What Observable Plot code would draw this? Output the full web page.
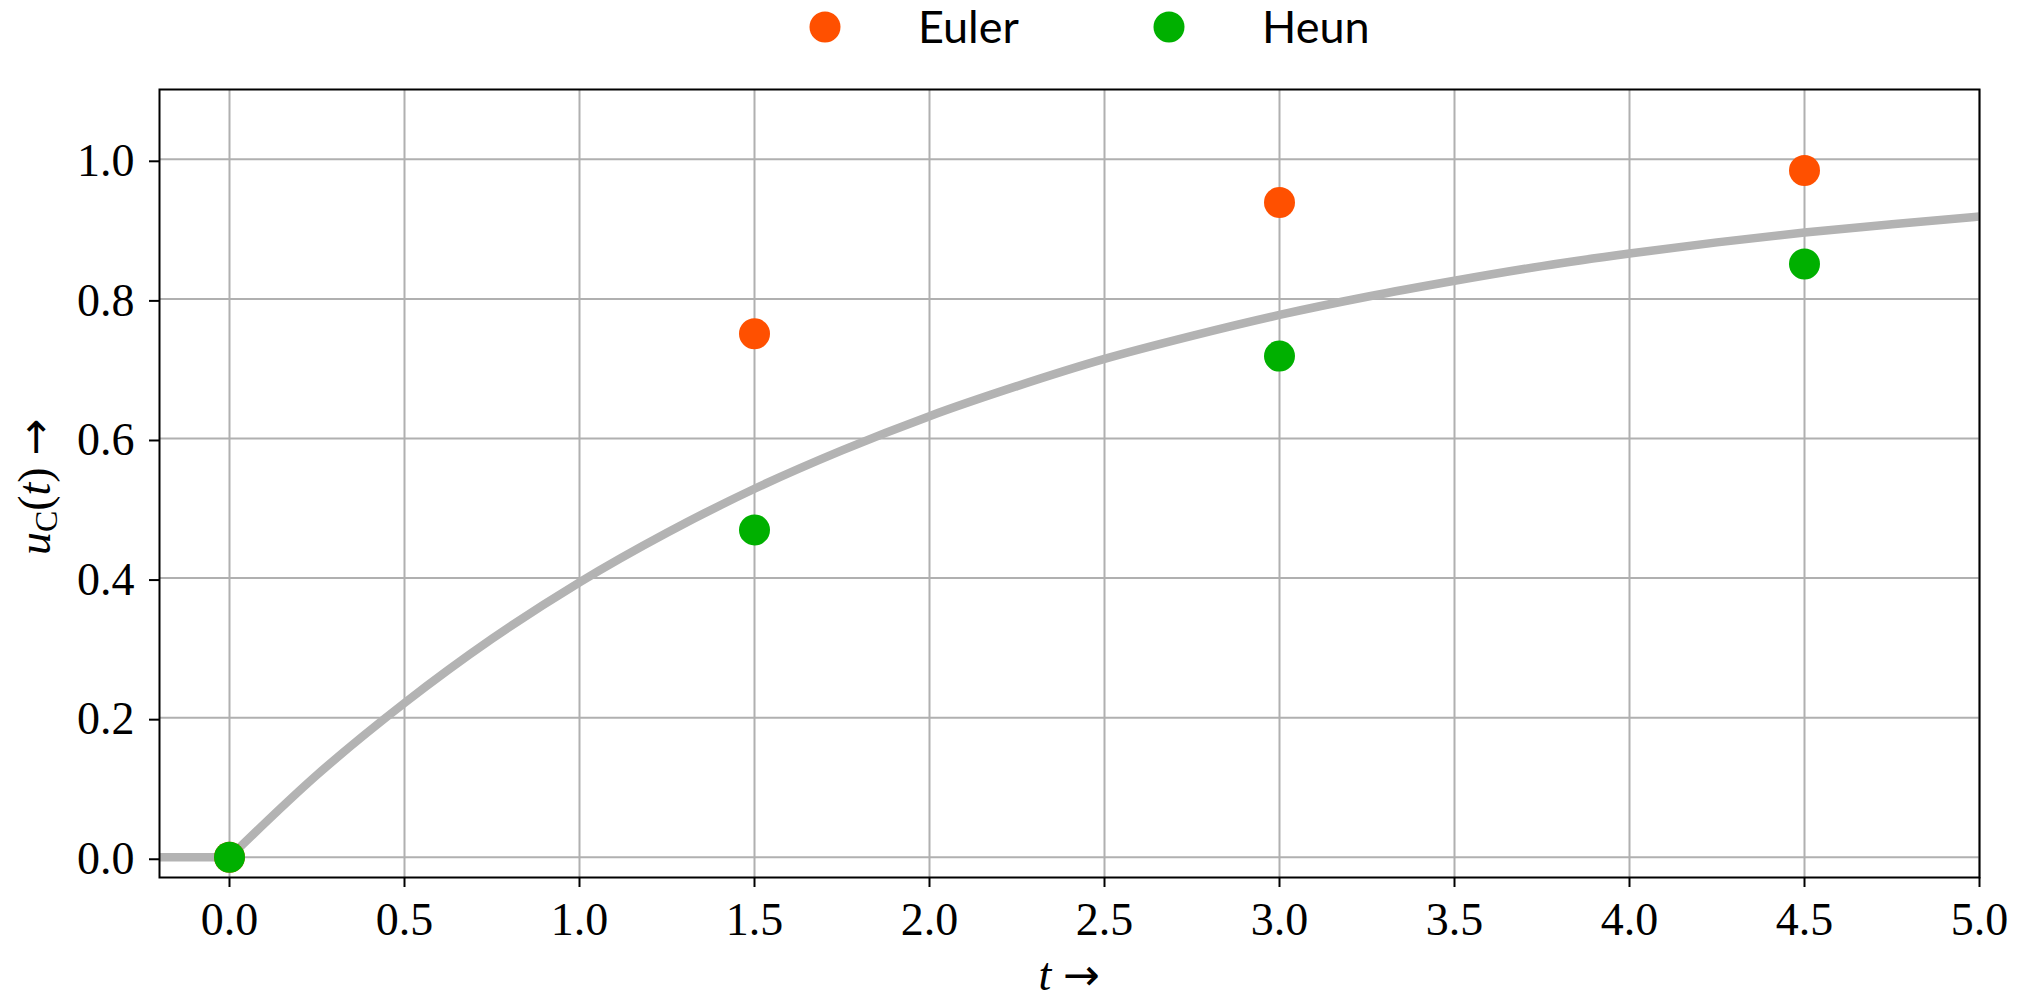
<!DOCTYPE html>
<html>
<head>
<meta charset="utf-8">
<script src="https://cdn.jsdelivr.net/npm/d3@7"></script>
<script src="https://cdn.jsdelivr.net/npm/@observablehq/plot@0.6"></script>
<style>
  html, body { margin: 0; padding: 0; background: #fff; }
  #wrap { position: relative; width: 2028px; height: 996px; }
  svg { display: block; }
</style>
</head>
<body>
<div id="wrap">
  <div id="legend"></div>
  <div id="chart"></div>
</div>
<script>
// Reference curve u_C(t) (flat part for t<0, then the rise)
const curveT = [-0.2, 0, 0, 0.25, 0.5, 0.75, 1.0, 1.25, 1.5, 1.75, 2.0, 2.25, 2.5, 2.75, 3.0, 3.25, 3.5, 3.75, 4.0, 4.25, 4.5, 4.75, 5.0];
const curveU = [0, 0, 0, 0.118, 0.221, 0.313, 0.394, 0.465, 0.528, 0.583, 0.632, 0.675, 0.714, 0.747, 0.777, 0.803, 0.826, 0.847, 0.865, 0.881, 0.895, 0.907, 0.918];
const curveSeg = [0, 0, 1, 1, 1, 1, 1, 1, 1, 1, 1, 1, 1, 1, 1, 1, 1, 1, 1, 1, 1, 1, 1];

// Euler method points
const eulerT = [0, 1.5, 3.0, 4.5];
const eulerU = [0, 0.750, 0.938, 0.984];

// Heun method points
const heunT = [0, 1.5, 3.0, 4.5];
const heunU = [0, 0.469, 0.718, 0.850];

// Ticks
const xTicks = [0, 0.5, 1.0, 1.5, 2.0, 2.5, 3.0, 3.5, 4.0, 4.5, 5.0];
const yTicks = [0, 0.2, 0.4, 0.6, 0.8, 1.0];

const seriesNames = ["Euler", "Heun"];
const seriesColors = ["#ff5000", "#00b000"];

const curve = curveT.map((t, i) => ({t, u: curveU[i], seg: curveSeg[i]}));
const euler = eulerT.map((t, i) => ({t, u: eulerU[i]}));
const heun = heunT.map((t, i) => ({t, u: heunU[i]}));

const serif = "'Liberation Serif', 'DejaVu Serif', serif";
const arrowFont = "'DejaVu Sans', sans-serif";
const gridColor = "#b0b0b0";

// Legend (above the chart SVG)
const legendSvg = d3.select("#legend").append("svg")
  .attr("width", 2028).attr("height", 60);
const swX = [825, 1169];
const lbX = [918, 1262];
seriesNames.forEach((name, i) => {
  legendSvg.append("circle").attr("cx", swX[i]).attr("cy", 27).attr("r", 15.5).attr("fill", seriesColors[i]);
  legendSvg.append("text").attr("x", lbX[i]).attr("y", 43)
    .attr("font-family", "Lato, 'Open Sans', sans-serif").attr("font-size", 45)
    .attr("fill", "#000").text(name);
});

const plot = Plot.plot({
  width: 2028,
  height: 936,
  marginLeft: 159,
  marginRight: 49,
  marginTop: 29,
  marginBottom: 119,
  style: {background: "#fff", overflow: "visible"},
  x: {domain: [-0.2, 5.0]},
  y: {domain: [-0.029, 1.1]},
  marks: [
    Plot.gridX(xTicks, {stroke: gridColor, strokeOpacity: 1, strokeWidth: 2}),
    Plot.gridY(yTicks, {stroke: gridColor, strokeOpacity: 1, strokeWidth: 2}),
    Plot.line(curve, {x: "t", y: "u", z: "seg", stroke: "#b3b3b3", strokeWidth: 8.5, curve: "monotone-x", clip: true}),
    Plot.dot(euler, {x: "t", y: "u", r: 15.5, fill: seriesColors[0]}),
    Plot.dot(heun, {x: "t", y: "u", r: 15.5, fill: seriesColors[1]}),
    Plot.frame({stroke: "#000", strokeWidth: 2}),
    Plot.axisX(xTicks, {tickFormat: d3.format(".1f"), tickSize: 10, tickPadding: 15, strokeWidth: 2, fontSize: 46, fontFamily: serif, fill: "#000", label: null}),
    Plot.axisY(yTicks, {tickFormat: d3.format(".1f"), tickSize: 10, tickPadding: 15, strokeWidth: 2, fontSize: 46, fontFamily: serif, fill: "#000", label: null, dy: 2})
  ]
});

document.getElementById("chart").appendChild(plot);

// Axis labels with italics and subscript
const svg = d3.select(plot);
const xl = svg.append("text")
  .attr("x", 1069).attr("y", 930)
  .attr("text-anchor", "middle")
  .attr("font-family", serif).attr("font-size", 46).attr("fill", "#000");
xl.append("tspan").attr("font-style", "italic").text("t ");
xl.append("tspan").attr("font-family", arrowFont).attr("font-size", 44).text("\u2192");

const yl = svg.append("text")
  .attr("transform", "translate(50,427) rotate(-90)")
  .attr("text-anchor", "middle")
  .attr("font-family", serif).attr("font-size", 46).attr("fill", "#000");
yl.append("tspan").attr("font-style", "italic").text("u");
yl.append("tspan").attr("font-size", 32).attr("dy", 7).text("C");
yl.append("tspan").attr("dy", -7).text("(");
yl.append("tspan").attr("font-style", "italic").text("t");
yl.append("tspan").text(") ");
yl.append("tspan").attr("font-family", arrowFont).attr("font-size", 44).text("\u2192");
</script>
</body>
</html>
